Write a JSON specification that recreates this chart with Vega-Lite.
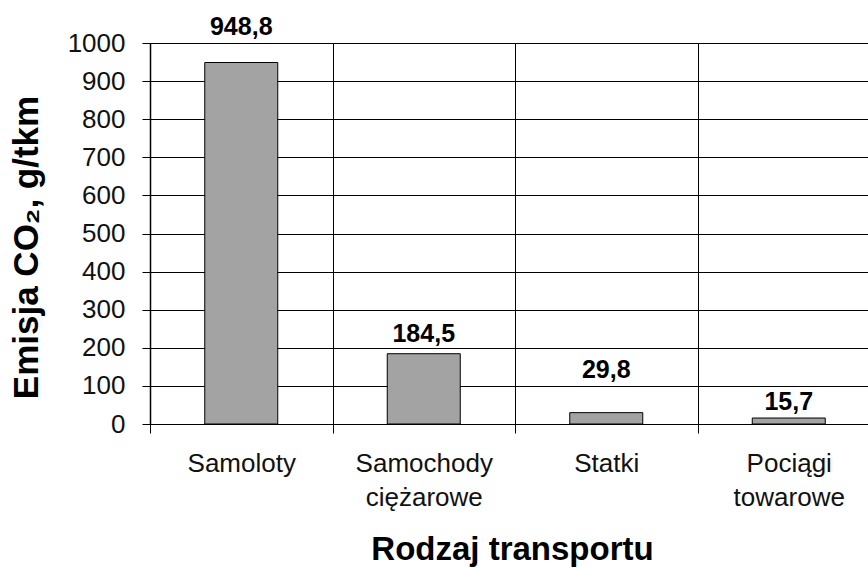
{
  "$schema": "https://vega.github.io/schema/vega-lite/v6.json",
  "autosize": {"type": "none"},
  "padding": {"left": 150, "top": 43, "right": 1, "bottom": 144},
  "width": 717,
  "height": 381,
  "background": "white",
  "config": {
    "view": {"stroke": null},
    "font": "Liberation Sans",
    "locale": {"number": {"decimal": ",", "thousands": " ", "grouping": [3], "currency": ["", " zł"]}}
  },
  "data": {
    "values": [
      {"Rodzaj": "Samoloty", "Emisja": 948.8},
      {"Rodzaj": "Samochody ciężarowe", "Emisja": 184.5},
      {"Rodzaj": "Statki", "Emisja": 29.8},
      {"Rodzaj": "Pociągi towarowe", "Emisja": 15.7}
    ]
  },
  "encoding": {
    "x": {
      "field": "Rodzaj",
      "type": "nominal",
      "sort": null,
      "scale": {"range": [0, 730], "paddingInner": 0, "paddingOuter": 0},
      "axis": {
        "title": "Rodzaj transportu",
        "titleFont": "Liberation Sans",
        "titleFontSize": 33,
        "titleFontWeight": "bold",
        "titleColor": "black",
        "titleX": 362,
        "titleY": 135,
        "titleBaseline": "alphabetic",
        "titleAlign": "center",
        "titleAnchor": null,
        "labelAngle": 0,
        "labelExpr": "split(datum.label, ' ')",
        "labelFont": "Liberation Sans",
        "labelFontSize": 26,
        "labelColor": "#111111",
        "labelLineHeight": 34,
        "labelPadding": 17,
        "labelBaseline": "top",
        "tickBand": "extent",
        "tickSize": 9,
        "tickColor": "black",
        "tickWidth": 1,
        "grid": true,
        "gridColor": "black",
        "gridOpacity": 1,
        "gridWidth": 1,
        "domainColor": "black",
        "domainWidth": 1
      }
    },
    "y": {
      "field": "Emisja",
      "type": "quantitative",
      "scale": {"domain": [0, 1000], "nice": false},
      "axis": {
        "title": "Emisja CO₂, g/tkm",
        "titleFont": "Liberation Sans",
        "titleFontSize": 35,
        "titleFontWeight": "bold",
        "titleColor": "black",
        "titleX": -113,
        "titleY": 204,
        "titleAngle": -90,
        "titleBaseline": "alphabetic",
        "titleAlign": "center",
        "titleAnchor": null,
        "values": [0, 100, 200, 300, 400, 500, 600, 700, 800, 900, 1000],
        "format": "d",
        "labelFont": "Liberation Sans",
        "labelFontSize": 26,
        "labelColor": "#111111",
        "labelPadding": 17,
        "tickSize": 8,
        "tickColor": "black",
        "grid": true,
        "gridColor": "black",
        "gridOpacity": 1,
        "gridWidth": 1,
        "domainColor": "black",
        "domainWidth": 1.5
      }
    }
  },
  "layer": [
    {
      "mark": {"type": "bar", "size": 73, "fill": "#a3a3a3", "stroke": "black", "strokeWidth": 1}
    },
    {
      "transform": [{"filter": "datum.Rodzaj === 'Samoloty'"}],
      "mark": {"type": "text", "baseline": "alphabetic", "dy": -28, "fontSize": 25, "fontWeight": "bold", "color": "black", "font": "Liberation Sans"},
      "encoding": {"text": {"field": "Emisja", "type": "quantitative", "format": ".1f"}}
    },
    {
      "transform": [{"filter": "datum.Rodzaj === 'Samochody ciężarowe'"}],
      "mark": {"type": "text", "baseline": "alphabetic", "dy": -12, "fontSize": 25, "fontWeight": "bold", "color": "black", "font": "Liberation Sans"},
      "encoding": {"text": {"field": "Emisja", "type": "quantitative", "format": ".1f"}}
    },
    {
      "transform": [{"filter": "datum.Rodzaj === 'Statki'"}],
      "mark": {"type": "text", "baseline": "alphabetic", "dy": -35, "fontSize": 25, "fontWeight": "bold", "color": "black", "font": "Liberation Sans"},
      "encoding": {"text": {"field": "Emisja", "type": "quantitative", "format": ".1f"}}
    },
    {
      "transform": [{"filter": "datum.Rodzaj === 'Pociągi towarowe'"}],
      "mark": {"type": "text", "baseline": "alphabetic", "dy": -8, "fontSize": 25, "fontWeight": "bold", "color": "black", "font": "Liberation Sans"},
      "encoding": {"text": {"field": "Emisja", "type": "quantitative", "format": ".1f"}}
    }
  ]
}
